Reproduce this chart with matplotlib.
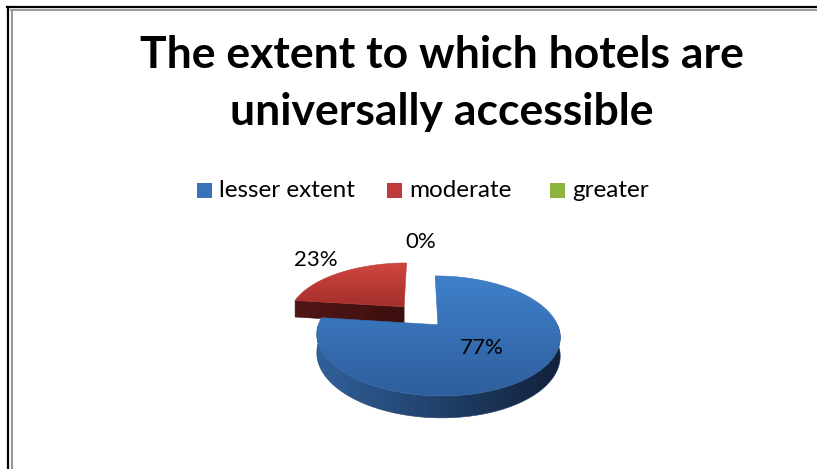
import numpy as np
import matplotlib.pyplot as plt
from matplotlib.patches import Polygon, Rectangle
from matplotlib.colors import to_rgb

# data
categories = ["lesser extent", "moderate", "greater"]
shares = [77, 23, 0]
pct_labels = ["77%", "23%", "0%"]
title_text = "The extent to which hotels are\nuniversally accessible"

# colours (top face light/dark, side light/dark, legend swatch)
top_colors = [("#3f80ca", "#2e5e9d"), ("#d0463f", "#a32f2b"), ("#9bc24a", "#76a030")]
side_colors = [("#30609a", "#12213a"), ("#511716", "#3c0f0e"), ("#5e7f25", "#3d5518")]
swatch_colors = ["#3a72b8", "#c0393b", "#8db43c"]

W, H = 817, 469
FONT = "Lato"

# fake 3d projection of the pie, in pixel units
P = 0.18      # perspective
K = 0.47      # tilt squash
T = 0.15      # thickness
S = 116       # radius in px
CX, CY = 420.5, 315.5
EXPLODE = 0.22
LABEL_R = [0.5, 1.45, 1.57]


def project(X, Y, Z=0.0):
    w = 1 + P * Y
    return CX + S * X / w, CY - S * (K * Y + T * Z) / w


def fill_gradient(ax, verts, c_start, c_end, direction, zorder):
    verts = np.asarray(verts)
    poly = Polygon(verts, closed=True, facecolor="none", edgecolor="none")
    ax.add_patch(poly)
    c0 = np.array(to_rgb(c_start))
    c1 = np.array(to_rgb(c_end))
    t = np.linspace(0, 1, 64)
    cols = c0 + (c1 - c0) * t[:, None]
    if direction == "v":
        img = cols[:, None, :]
    else:
        img = cols[None, :, :]
    xs, ys = verts[:, 0], verts[:, 1]
    im = ax.imshow(img, extent=(xs.min(), xs.max(), ys.max(), ys.min()),
                   origin="upper", aspect="auto", interpolation="bilinear",
                   zorder=zorder)
    im.set_clip_path(poly)
    # soft edge to hide clipping jaggies
    ax.add_patch(Polygon(verts, closed=True, facecolor="none",
                         edgecolor=tuple((c0 + c1) / 2), linewidth=0.4,
                         zorder=zorder + 0.01))


fig = plt.figure(figsize=(W / 100, H / 100), dpi=100)
ax = fig.add_axes([0, 0, 1, 1])
ax.set_xlim(0, W)
ax.set_ylim(H, 0)
ax.axis("off")

# slices, clockwise from 12 o'clock
total = float(sum(shares))
cum = np.concatenate([[0], np.cumsum(shares)]) / total * 360.0
slices = []
for i in range(len(shares)):
    a0 = 90 - cum[i]
    a1 = 90 - cum[i + 1]
    mid = np.radians((a0 + a1) / 2)
    ox, oy = EXPLODE * np.cos(mid), EXPLODE * np.sin(mid)
    slices.append((i, a0, a1, ox, oy))

# draw far slices first
order = sorted(slices, key=lambda s: -s[4])
z = 2
for i, a0, a1, ox, oy in order:
    if shares[i] <= 0:
        continue
    th = np.radians(np.linspace(a0, a1, 240))

    # radial cut faces
    for ang, normal in [(a0, a0 + 90), (a1, a1 - 90)]:
        if np.sin(np.radians(normal)) < -0.05:
            ra = np.radians(ang)
            rx, ry = ox + np.cos(ra), oy + np.sin(ra)
            quad = [project(ox, oy, 0), project(rx, ry, 0),
                    project(rx, ry, -1), project(ox, oy, -1)]
            fill_gradient(ax, quad, side_colors[i][0], side_colors[i][1], "h", z)
            z += 1

    # outer wall on the front half
    front = th[np.sin(th) < 0]
    if len(front) > 1:
        top = [project(ox + np.cos(a), oy + np.sin(a), 0) for a in front]
        bot = [project(ox + np.cos(a), oy + np.sin(a), -1) for a in front[::-1]]
        fill_gradient(ax, top + bot, side_colors[i][0], side_colors[i][1], "h", z)
        z += 1

    # top face
    face = [project(ox, oy, 0)] + [project(ox + np.cos(a), oy + np.sin(a), 0) for a in th]
    fill_gradient(ax, face, top_colors[i][0], top_colors[i][1], "v", z)
    z += 1

# percentage labels
for i, a0, a1, ox, oy in slices:
    mid = np.radians((a0 + a1) / 2)
    lx, ly = project(ox + LABEL_R[i] * np.cos(mid), oy + LABEL_R[i] * np.sin(mid), 0)
    ax.text(lx, ly, pct_labels[i], ha="center", va="center", fontsize=16,
            family=FONT, color="black", zorder=50)

# title
line1, line2 = title_text.split("\n")
ax.text(442, 68, line1, ha="center", va="baseline",
        fontsize=32, fontweight="bold", family=FONT, zorder=50)
ax.text(442, 125, line2, ha="center", va="baseline",
        fontsize=32, fontweight="bold", family=FONT, zorder=50)

# legend
leg_x = [197, 387, 550]
for i, name in enumerate(categories):
    ax.add_patch(Rectangle((leg_x[i], 183), 15, 15, facecolor=swatch_colors[i],
                           edgecolor="none", zorder=50))
    ax.text(leg_x[i] + 22, 190.5, name, ha="left", va="center", fontsize=17.5,
            family=FONT, zorder=50)

# frame lines
ax.plot([8, 8], [7, H], color="black", lw=1.6, zorder=60)
ax.plot([7, W], [7, 7], color="black", lw=1.6, zorder=60)
ax.plot([12, 12], [10, H], color="#9a9a9a", lw=1.5, zorder=60)
ax.plot([11, W], [10.5, 10.5], color="#9a9a9a", lw=1.5, zorder=60)

fig.savefig("out.png", dpi=100)
